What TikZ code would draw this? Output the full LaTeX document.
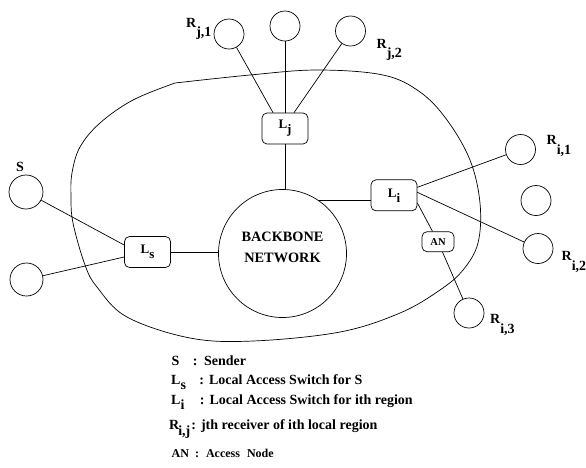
\documentclass[tikz,border=0pt]{standalone}
\usepackage{fontspec}
\setmainfont{Liberation Serif}
\usetikzlibrary{positioning}

\begin{document}
\begin{tikzpicture}[
    x=1pt, y=-1pt,
    host/.style={draw, circle, minimum size=30pt, inner sep=0pt},
    switch/.style={draw, rectangle, rounded corners=5pt, minimum width=46pt, minimum height=31pt, inner sep=1pt, font=\fontsize{13}{15}\selectfont\bfseries},
    access/.style={draw, rectangle, rounded corners=5pt, minimum width=32pt, minimum height=20pt, inner sep=1pt, font=\fontsize{10.5}{12}\selectfont\bfseries},
    tag/.style={inner sep=0pt, anchor=base west, font=\fontsize{14}{16}\selectfont\bfseries},
    small tag/.style={inner sep=0pt, anchor=base west, font=\fontsize{12}{14}\selectfont\bfseries},
    link/.style={line width=0.7pt}
]
\useasboundingbox (0,0) rectangle (586,467);

% local region boundary
\draw[link] plot[smooth, tension=0.6] coordinates {(175,83) (250,75) (317,70) (383,75) (420,92)
    (447,120) (470,160) (480,203) (478,243) (463,270) (440,290) (400,313) (340,332)
    (253,341) (190,338) (127,317) (97,287) (85,265) (73,223) (71,197) (72,173)
    (80,147) (100,123) (133,100) (175,83)};

% backbone
\node[draw, circle, minimum size=128pt, inner sep=0pt, line width=0.7pt] (bb) at (282.5,253.5) {};
\node[align=center, font=\fontsize{14.3}{21}\selectfont\bfseries] (bbname) at ([yshift=6pt]bb.center) {BACKBONE\\NETWORK};

% switches
\node[switch, line width=0.7pt] (lj) at (285,128.5) {L\raisebox{-5pt}{j}};
\node[switch, line width=0.7pt] (ls) at (147.5,252) {L\raisebox{-5pt}{s}};
\node[switch, line width=0.7pt] (li) at (394,195.3) {L\raisebox{-5pt}{i}};
\node[access, line width=0.7pt] (an) at (438,241.7) {AN};

% hosts
\node[host, line width=0.7pt] (rj1) at (229,34) {};
\node[host, line width=0.7pt] (rjm) at (285,26) {};
\node[host, line width=0.7pt] (rj2) at (350.5,31) {};
\node[host, minimum size=34pt, line width=0.7pt] (s) at (26,192) {};
\node[host, minimum size=33pt, line width=0.7pt] (sx) at (26.5,279.5) {};
\node[host, line width=0.7pt] (ri1) at (520.5,149.5) {};
\node[host, line width=0.7pt] (rim) at (536,200.5) {};
\node[host, line width=0.7pt] (ri2) at (538,248.5) {};
\node[host, line width=0.7pt] (ri3) at (469,313) {};

% host labels
\node[tag] (rj1name) at (186,27) {R\raisebox{-9pt}{j,1}};
\node[tag] (rj2name) at (376.5,48) {R\raisebox{-9pt}{j,2}};
\node[tag] (sname) at (16,171) {S};
\node[tag] (ri1name) at (546.5,144) {R\raisebox{-10pt}{i,1}};
\node[tag] (ri2name) at (561.5,260.5) {R\raisebox{-10pt}{i,2}};
\node[tag] (ri3name) at (490,323) {R\raisebox{-10pt}{i,3}};

% links
\draw[link] (rj1) -- ([xshift=-12pt]lj.north);
\draw[link] (rjm) -- (lj.north);
\draw[link] (rj2) -- ([xshift=9pt]lj.north);
\draw[link] (lj.south) -- (lj.south |- bb.north);
\draw[link] (s) -- ([yshift=7pt]ls.west);
\draw[link] (sx) -- ([yshift=-5pt]ls.west);
\draw[link] (ls.east) -- (ls.east -| bb.west);
\draw[link] (bb.55) -- (bb.55 -| li.west);
\draw[link] ([yshift=8pt]li.east) -- (ri1);
\draw[link] ([yshift=3pt]li.east) -- (ri2);
\draw[link] (li.-18) -- (an);
\draw[link] (an) -- (ri3);

% legend
\node[tag] (key1) at (171.5,365) {S\hspace{13.5pt}:\hspace{6.5pt}Sender};
\node[tag] (key2) at (171,384) {L\raisebox{-5pt}{s}\hspace{13.5pt}:\hspace{5pt}Local Access Switch for S};
\node[tag] (key3) at (171,404) {L\raisebox{-5pt}{i}\hspace{15.5pt}:\hspace{5pt}Local Access Switch for ith region};
\node[tag] (key4) at (169,429.5) {R\kern-1pt\raisebox{-6pt}{i,j}\kern1pt:\hspace{5pt}jth receiver of ith local region};
\node[small tag] (key5) at (171.5,457.5) {AN\hspace{6pt}:\hspace{7pt}Access\hspace{7pt}Node};
\end{tikzpicture}
\end{document}
